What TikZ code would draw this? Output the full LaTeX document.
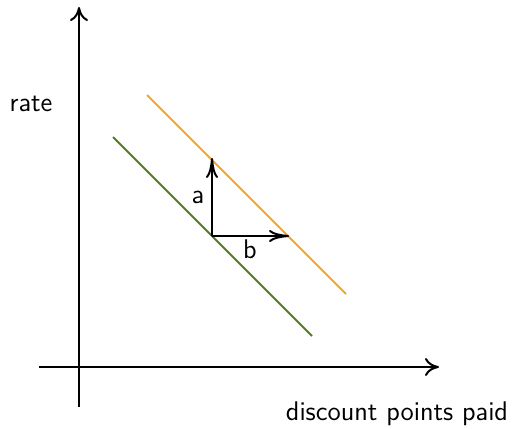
\documentclass[tikz,border=0pt]{standalone}
\usepackage{fontspec}
\usetikzlibrary{arrows.meta}
\renewcommand{\familydefault}{\sfdefault}
\definecolor{linegreen}{HTML}{4F7F1F}
\definecolor{lineorange}{HTML}{F5A623}
\begin{document}
\begin{tikzpicture}[x=0.5pt,y=-0.5pt,
  axis/.style={line width=1pt,-{To[length=7pt,width=9pt]}},
  shiftarrow/.style={line width=1pt,-{To[length=10pt,width=6pt]}},
  budget/.style={line width=0.9pt},
  lbl/.style={font=\fontsize{13.5}{16}\selectfont\sffamily,inner sep=0pt}]
\useasboundingbox (0,0) rectangle (512,428);
\coordinate (yb) at (79,407);
\coordinate (yt) at (79,7);
\coordinate (xl) at (39,367);
\coordinate (xr) at (439,367);
\draw[axis] (yb) -- (yt);
\draw[axis] (xl) -- (xr);
\node[lbl] (rate) at (31,104) {rate};
\node[lbl] (dpp) at (397,414) {discount points paid};
\coordinate (g1) at (113,137);
\coordinate (g2) at (312,336);
\coordinate (o1) at (147,95);
\coordinate (o2) at (346,294);
\draw[budget,linegreen] (g1) -- (g2);
\draw[budget,lineorange] (o1) -- (o2);
\coordinate (p) at (212,236);
\coordinate (pa) at (212,158);
\coordinate (pb) at (289,236);
\draw[shiftarrow] (p) -- (pa);
\draw[shiftarrow] (p) -- (pb);
\node[lbl] (a) at (198,197) {a};
\node[lbl] (b) at (250,249) {b};
\end{tikzpicture}
\end{document}
